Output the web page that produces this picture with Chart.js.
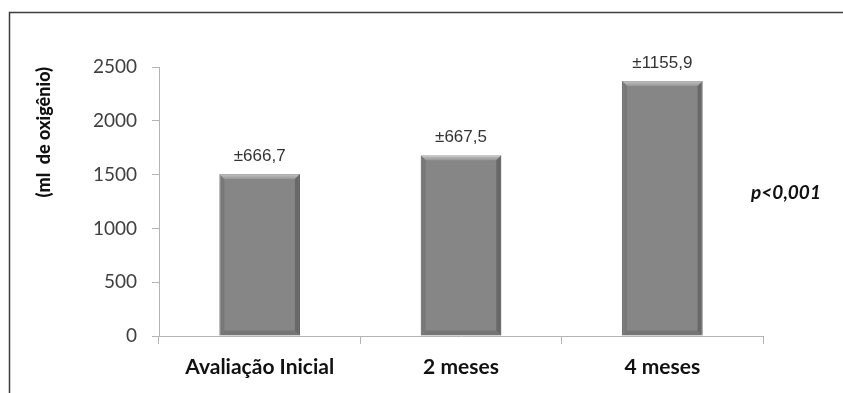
<!DOCTYPE html>
<html>
<head>
<meta charset="utf-8">
<script src="https://cdn.jsdelivr.net/npm/chart.js@4"></script>
<style>
  html, body { margin: 0; padding: 0; background: #fff; }
  #wrap { width: 843px; height: 393px; position: relative; }
</style>
</head>
<body>
<div id="wrap"><canvas id="chartOxi"></canvas></div>
<script>
// ── Oxygen consumption chart ──

const categories = ['Avaliação Inicial', '2 meses', '4 meses'];
const means = [1505, 1680, 2370];
const sdLabels = ['±666,7', '±667,5', '±1155,9'];
const yTicks = [0, 500, 1000, 1500, 2000, 2500];
const yTitle = '(ml  de oxigênio)';
const pNote = 'p<0,001';

const AXIS_GRAY = '#b4b4b4';

// frame lines, bevel on bars, sd labels and p-value note
const extrasPlugin = {
  id: 'extras',
  beforeDraw(chart) {
    const ctx = chart.ctx;
    ctx.save();
    ctx.strokeStyle = '#3c3c3c';
    ctx.lineWidth = 1.5;
    ctx.beginPath();
    ctx.moveTo(9.5, 393);
    ctx.lineTo(9.5, 12.5);
    ctx.lineTo(843, 12.5);
    ctx.stroke();
    ctx.restore();
  },
  afterDatasetsDraw(chart) {
    const ctx = chart.ctx;
    const meta = chart.getDatasetMeta(0);
    meta.data.forEach((bar, i) => {
      const { x, y, base, width } = bar.getProps(['x', 'y', 'base', 'width'], true);
      const l = x - width / 2, r = x + width / 2, b = 5;
      ctx.save();
      // top highlight
      const g = ctx.createLinearGradient(0, y, 0, y + b);
      g.addColorStop(0, 'rgba(255,255,255,0.5)');
      g.addColorStop(1, 'rgba(255,255,255,0.15)');
      ctx.fillStyle = g;
      ctx.beginPath();
      ctx.moveTo(l, y); ctx.lineTo(r, y); ctx.lineTo(r - b, y + b); ctx.lineTo(l + b, y + b);
      ctx.closePath(); ctx.fill();
      // left edge
      ctx.fillStyle = 'rgba(0,0,0,0.10)';
      ctx.beginPath();
      ctx.moveTo(l, y); ctx.lineTo(l + b, y + b); ctx.lineTo(l + b, base - b); ctx.lineTo(l, base);
      ctx.closePath(); ctx.fill();
      // right edge
      ctx.fillStyle = 'rgba(0,0,0,0.22)';
      ctx.beginPath();
      ctx.moveTo(r, y); ctx.lineTo(r - b, y + b); ctx.lineTo(r - b, base - b); ctx.lineTo(r, base);
      ctx.closePath(); ctx.fill();
      // bottom edge
      ctx.fillStyle = 'rgba(0,0,0,0.12)';
      ctx.beginPath();
      ctx.moveTo(l, base); ctx.lineTo(l + b, base - b); ctx.lineTo(r - b, base - b); ctx.lineTo(r, base);
      ctx.closePath(); ctx.fill();

      // sd label above bar
      ctx.fillStyle = '#333';
      ctx.font = '17px "Liberation Sans", Arial, sans-serif';
      ctx.textAlign = 'center';
      ctx.textBaseline = 'middle';
      ctx.fillText(sdLabels[i], x, y - 18);
      ctx.restore();
    });

    ctx.save();
    ctx.fillStyle = '#111';
    ctx.font = 'italic bold 19px Lato, sans-serif';
    ctx.textAlign = 'center';
    ctx.textBaseline = 'middle';
    ctx.fillText(pNote, 786, 193);
    ctx.restore();
  }
};

new Chart(document.getElementById('chartOxi'), {
  type: 'bar',
  data: {
    labels: categories,
    datasets: [{
      data: means,
      backgroundColor: '#868686',
      borderColor: '#6a6a6a',
      borderWidth: 1,
      barPercentage: 0.8,
      categoryPercentage: 0.5
    }]
  },
  options: {
    responsive: true,
    maintainAspectRatio: false,
    animation: false,
    layout: { padding: { left: 0, top: 67, right: 80, bottom: 0 } },
    plugins: {
      legend: { display: false },
      tooltip: { enabled: false }
    },
    scales: {
      x: {
        afterFit: (s) => { s.height = 57; },
        grid: { drawOnChartArea: false, tickLength: 8, color: AXIS_GRAY, offset: true },
        border: { color: AXIS_GRAY },
        ticks: {
          color: '#111',
          padding: 11,
          font: { size: 21, weight: 'bold', family: 'Lato' }
        }
      },
      y: {
        min: 0,
        max: 2500,
        afterFit: (s) => { s.width = 159; },
        afterBuildTicks: (s) => { s.ticks = yTicks.map(v => ({ value: v })); },
        grid: { drawOnChartArea: false, tickLength: 7, color: AXIS_GRAY },
        border: { color: AXIS_GRAY },
        ticks: {
          color: '#404040',
          padding: 15,
          callback: (v) => String(v),
          font: { size: 19, family: 'Lato' }
        },
        title: {
          display: true,
          text: yTitle,
          align: 'end',
          color: '#111',
          padding: { top: 33, bottom: 0 },
          font: { size: 18, weight: 900, family: 'Lato' }
        }
      }
    }
  },
  plugins: [extrasPlugin]
});
</script>
</body>
</html>
